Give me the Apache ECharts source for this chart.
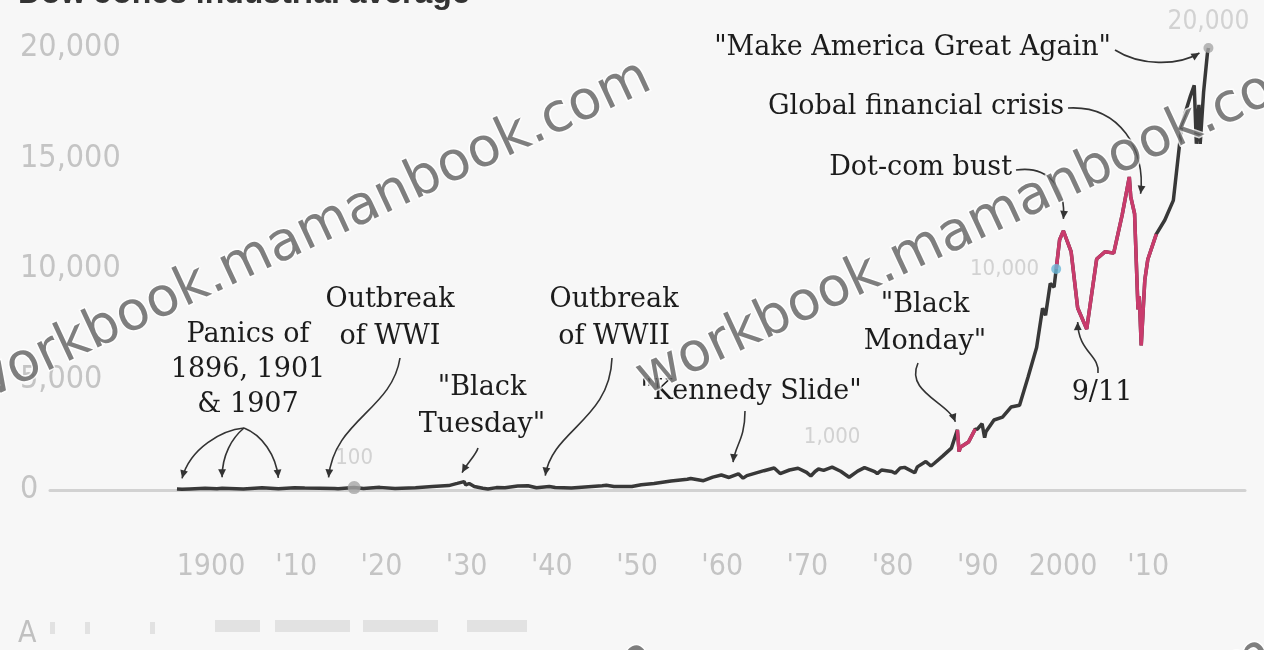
<!DOCTYPE html>
<html><head><meta charset="utf-8">
<script src="https://cdn.jsdelivr.net/npm/echarts@6/dist/echarts.min.js"></script>
<style>html,body{margin:0;padding:0;background:#f7f7f7;}#chart{width:1264px;height:650px;}</style>
</head><body><div id="chart"></div>
<script>
// ---- data (Dow Jones industrial average) ----
const years = [1896.0,1896.6,1897.5,1899.3,1900.7,1901.3,1901.4,1903.8,1906.0,1907.9,1909.8,1911.0,1914.5,1914.9,1916.8,1917.9,1919.8,1921.6,1924.0,1926.0,1927.9,1928.9,1929.7,1929.9,1930.3,1930.9,1931.9,1932.5,1933.5,1934.5,1936.0,1937.2,1938.2,1939.7,1940.4,1942.3,1945.9,1946.4,1947.3,1949.4,1950.5,1952.0,1954.0,1955.9,1956.3,1957.8,1958.9,1959.9,1960.8,1961.9,1962.45,1962.9,1963.9,1964.9,1966.1,1966.8,1967.9,1968.9,1969.9,1970.4,1970.9,1971.3,1971.9,1972.9,1973.0,1973.9,1974.9,1975.9,1976.7,1977.9,1978.2,1978.7,1979.9,1980.3,1980.9,1981.4,1982.6,1982.9,1983.9,1984.5,1984.9,1985.9,1986.9,1987.6,1987.8,1987.95,1988.9,1989.7,1989.95,1990.5,1990.8,1990.95,1991.9,1992.9,1993.9,1994.9,1995.9,1996.9,1997.6,1997.95,1998.5,1998.95,1999.2,1999.6,2000.04,2000.95,2001.72,2002.78,2003.95,2004.95,2005.95,2006.95,2007.78,2007.95,2008.4,2008.8,2008.95,2009.18,2009.6,2009.95,2010.95,2011.95,2012.95,2013.95,2014.95,2015.4,2015.65,2015.95,2016.1,2016.5,2016.95,2017.07];
const values = [40,29,45,77,53,78,61,42,103,53,100,85,71,54,110,66,119,64,100,160,200,300,381,230,294,158,78,41,108,100,180,194,99,155,112,93,195,212,163,161,235,290,404,488,521,420,583,679,566,734,536,652,763,874,995,744,905,985,800,631,838,950,890,1036,1051,850,577,852,1014,831,742,907,838,759,1000,1024,777,1046,1287,1086,1211,1546,1895,2722,1738,1939,2168,2753,2753,2999,2365,2633,3168,3301,3754,3834,5117,6448,8223,7908,9338,9181,10000,11326,11723,10787,8236,7286,10454,10783,10718,12463,14165,13265,12500,8175,8776,6547,9500,10428,11578,12218,13104,16577,17823,18312,15666,17425,15660,18000,19763,20000];
const tickYears = [1900,1910,1920,1930,1940,1950,1960,1970,1980,1990,2000,2010];
const yTicks = [0,5000,10000,15000,20000];
const highlightRanges = [[1987.55,1989.75],[1999.15,2011.0]];
const milestoneYears = [1916.8,1972.9,1999.2,2017.07];
const milestoneValues = [110,1036,10000,20000];
const milestoneLabels = ['100','1,000','10,000','20,000'];
const titleText = 'Dow Jones industrial average';
const watermarkText = 'workbook.mamanbook.com';

// ---- chart ----
const chart = echarts.init(document.getElementById('chart'), null, {renderer:'canvas'});
const lineData = years.map((y,i)=>[y, values[i]]);
const hiData = years.map((y,i)=> highlightRanges.some(r=>y>=r[0]&&y<=r[1]) ? [y, values[i]] : [y, null]);
const msColors = ['#a6a6a6','rgba(0,0,0,0)','#6bb8d8','#a6a6a6'];
const msSizes = [13,1,10,10];
const msLabelPos = ['top','top','left','top'];
const msLabelDist = [12,18,12,8];
const msLabelSize = [22,22,22,26];
const narrow = '"Liberation Sans Narrow","DejaVu Sans Condensed","Roboto Condensed","Liberation Sans",sans-serif';
const serif = '"DejaVu Serif","Liberation Serif",serif';

chart.setOption({
  backgroundColor:'#f7f7f7',
  animation:false,
  grid:{left:50,right:19,top:48,bottom:160},
  xAxis:{type:'value',min:1881.1,max:2021.36,splitLine:{show:false},
    axisLine:{show:true,onZero:true,lineStyle:{color:'#d2d2d2',width:3}},
    axisTick:{show:false},
    axisLabel:{customValues:tickYears,margin:62,color:'#c4c4c4',fontSize:30,fontFamily:narrow,
      formatter:v=> (v===1900||v===2000) ? String(v) : "'" + String(v%100).padStart(2,'0')}},
  yAxis:{type:'value',min:0,max:20000,interval:5000,splitLine:{show:false},axisLine:{show:false},axisTick:{show:false},
    axisLabel:{align:'left',margin:30,color:'#c4c4c4',fontSize:32,fontFamily:narrow,
      formatter:v=>v.toLocaleString('en-US')}},
  series:[
    {type:'line',data:lineData,showSymbol:false,clip:false,lineStyle:{color:'#383838',width:3.5},z:2},
    {type:'line',data:hiData,showSymbol:false,clip:false,connectNulls:false,lineStyle:{color:'#c93b6c',width:3.5},z:3},
    {type:'scatter',z:4,clip:false,data:milestoneYears.map((y,i)=>({value:[y,milestoneValues[i]],symbolSize:msSizes[i],
        itemStyle:{color:msColors[i]},
        label:{show:true,position:msLabelPos[i],distance:msLabelDist[i],formatter:milestoneLabels[i],
          color:'#c8c8c8',fontSize:msLabelSize[i],fontFamily:narrow}}))}
  ]
});

function px(t){ return chart.convertToPixel({gridIndex:0}, t); }

const annotations = [
  {lines:['Panics of','1896, 1901','& 1907'], x:248, y:335, lh:35, align:'center', arrows:[
    {from:[244,428],c1:[222,430],c2:[190,448],target:[1896.6,29],off:[0,-11]},
    {from:[244,428],c1:[232,438],c2:[222,455],target:[1901.3,78],off:[0,-11]},
    {from:[244,428],c1:[262,435],c2:[276,455],target:[1907.9,53],off:[0,-11]}]},
  {lines:['Outbreak','of WWI'], x:390, y:300, lh:37, align:'center', arrows:[
    {from:[400,358],c1:[392,410],c2:[334,420],target:[1914.5,71],off:[-6,-11]}]},
  {lines:['"Black','Tuesday"'], x:482, y:388, lh:37, align:'center', arrows:[
    {from:[478,448],c1:[476,455],c2:[468,462],target:[1929.7,381],off:[-2,-9]}]},
  {lines:['Outbreak','of WWII'], x:614, y:300, lh:37, align:'center', arrows:[
    {from:[612,358],c1:[610,420],c2:[552,430],target:[1939.7,155],off:[-4,-11]}]},
  {lines:['"Kennedy Slide"'], x:751, y:392, lh:37, align:'center', arrows:[
    {from:[745,411],c1:[745,440],c2:[735,445],target:[1962.45,536],off:[-10,-16]}]},
  {lines:['"Black','Monday"'], x:925, y:305, lh:37, align:'center', arrows:[
    {from:[918,363],c1:[905,392],c2:[948,402],target:[1987.6,2722],off:[-2,-8]}]},
  {lines:['9/11'], x:1102, y:393, lh:37, align:'center', arrows:[
    {from:[1098,373],c1:[1100,355],c2:[1078,352],target:[2001.72,8236],off:[0,14]}]},
  {lines:['Dot-com bust'], x:1012, y:168, lh:37, align:'right', arrows:[
    {from:[1016,170],c1:[1050,165],c2:[1066,190],target:[2000.04,11723],off:[0,-12]}]},
  {lines:['Global financial crisis'], x:1064, y:107, lh:37, align:'right', arrows:[
    {from:[1068,108],c1:[1120,105],c2:[1146,150],target:[2008.4,12500],off:[6,-20]}]},
  {lines:['"Make America Great Again"'], x:1111, y:48, lh:37, align:'right', arrows:[
    {from:[1115,50],c1:[1140,66],c2:[1178,66],target:[2017.07,20000],off:[-9,5]}]}
];

const g = [];
// title (cut off at top)
g.push({type:'text',x:18,y:10,z:50,style:{text:titleText,fill:'#333',font:'bold 32px "Liberation Sans",sans-serif',textVerticalAlign:'bottom',textAlign:'left'}});
// source line (blurred)
g.push({type:'text',x:18,y:634,z:50,style:{text:'A',fill:'#c0c0c0',font:'30px '+narrow,textVerticalAlign:'middle'}});
[[50,622,5,12],[85,622,5,12],[150,622,5,12],[215,620,45,12],[275,620,75,12],[363,620,75,12],[467,620,60,12]].forEach(r=>{
  g.push({type:'rect',z:50,shape:{x:r[0],y:r[1],width:r[2],height:r[3]},style:{fill:'#e2e2e2'}});
});

annotations.forEach(a=>{
  a.lines.forEach((ln,i)=>{
    g.push({type:'text',x:a.x,y:a.y+i*a.lh,z:60,style:{text:ln,fill:'#1c1c1c',font:'27px '+serif,
      textAlign:a.align,textVerticalAlign:'middle',stroke:'#f7f7f7',lineWidth:3}});
  });
  a.arrows.forEach(ar=>{
    const p = px(ar.target);
    const tip = [p[0]+ar.off[0], p[1]+ar.off[1]];
    g.push({type:'bezierCurve',z:60,shape:{x1:ar.from[0],y1:ar.from[1],cpx1:ar.c1[0],cpy1:ar.c1[1],cpx2:ar.c2[0],cpy2:ar.c2[1],x2:tip[0],y2:tip[1]},
      style:{stroke:'#333',lineWidth:1.6,fill:null}});
    const ang = Math.atan2(tip[1]-ar.c2[1], tip[0]-ar.c2[0]);
    const L=9, w=0.45;
    g.push({type:'polygon',z:60,shape:{points:[tip,
      [tip[0]-L*Math.cos(ang-w), tip[1]-L*Math.sin(ang-w)],
      [tip[0]-L*Math.cos(ang+w), tip[1]-L*Math.sin(ang+w)]]},style:{fill:'#333'}});
  });
});

// watermark
[[-31,392,'left'],[640,382,'left'],[652,655,'right'],[1270,652,'right']].forEach(p=>{
  g.push({type:'text',x:p[0],y:p[1],rotation:25*Math.PI/180,z:80,
    style:{text:watermarkText,fill:'rgba(95,95,95,0.8)',stroke:'rgba(255,255,255,0.8)',lineWidth:3,
      font:'54px "DejaVu Sans",sans-serif',textAlign:p[2],textVerticalAlign:'middle'}});
});

chart.setOption({graphic:{elements:g}});
</script></body></html>
